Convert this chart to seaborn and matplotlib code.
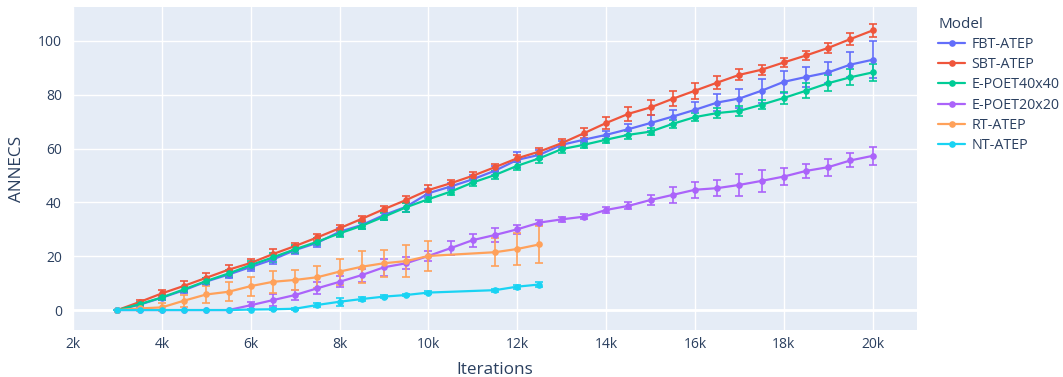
import pandas as pd
import seaborn as sns
import matplotlib.pyplot as plt
from matplotlib.ticker import FuncFormatter

# iteration grid (every 500 iterations)
iters_full = list(range(3000, 20001, 500))
iters_short = list(range(3000, 10001, 500)) + [11500, 12000, 12500]

fbt = [0, 2.0, 4.6, 7.4, 10.6, 13.2, 16.0, 18.8, 22.3, 25.0, 29.1, 31.6, 35.3, 38.4, 43.4,
       45.9, 48.6, 51.8, 55.8, 57.7, 61.4, 63.3, 65.1, 67.2, 69.5, 71.9, 74.4, 77.1, 78.6,
       81.5, 84.8, 86.6, 88.3, 91.2, 93.0]
fbt_err = [0, 0.8, 1.0, 1.2, 1.2, 1.3, 1.4, 1.6, 1.4, 1.6, 1.5, 1.4, 1.8, 1.8, 1.6, 1.4, 1.5,
           1.8, 3.0, 1.6, 1.4, 1.6, 1.5, 2.0, 2.8, 2.6, 3.0, 3.2, 3.6, 4.4, 4.0, 3.6, 3.8, 4.6, 6.8]

sbt = [0, 3.0, 6.2, 9.0, 12.0, 15.0, 17.5, 20.8, 23.8, 27.0, 30.4, 33.9, 37.5, 40.9, 44.6,
       47.1, 49.9, 53.1, 56.4, 58.9, 62.0, 65.7, 69.5, 72.9, 75.3, 78.5, 81.5, 84.5, 87.4,
       89.3, 92.0, 94.6, 97.4, 100.7, 103.9]
sbt_err = [0, 0.8, 1.2, 1.8, 1.6, 1.8, 1.6, 1.8, 1.3, 1.2, 1.2, 1.0, 1.2, 1.3, 1.8, 1.4, 1.5,
           1.3, 1.4, 1.3, 1.4, 1.8, 2.2, 2.6, 2.8, 2.8, 3.0, 2.4, 2.0, 1.8, 1.8, 1.8, 1.8, 2.2, 2.4]

poet40 = [0, 2.2, 4.7, 7.7, 10.8, 13.6, 16.7, 19.6, 22.6, 25.4, 28.5, 31.3, 34.7, 38.2, 41.2,
          44.0, 47.4, 50.2, 53.6, 56.4, 59.8, 61.4, 63.3, 65.1, 66.3, 69.2, 71.7, 73.2, 74.0,
          76.3, 78.8, 81.5, 84.3, 86.5, 88.3]
poet40_err = [0, 0.8, 1.0, 1.0, 1.2, 1.3, 1.5, 1.6, 1.4, 1.3, 1.4, 1.2, 1.4, 1.6, 1.2, 1.2, 1.3,
              1.4, 1.6, 1.6, 1.6, 1.2, 1.2, 1.4, 1.4, 1.4, 1.6, 1.8, 2.0, 1.6, 2.2, 2.8, 3.0, 3.0, 3.2]

poet20 = [0, 0, 0, 0, 0, 0, 1.8, 3.7, 5.6, 8.1, 10.5, 13.0, 15.9, 17.4, 20.1, 23.0, 26.0,
          27.9, 30.0, 32.5, 33.7, 34.7, 37.2, 38.7, 40.9, 42.8, 44.7, 45.3, 46.5, 48.0, 49.6,
          51.7, 53.1, 55.6, 57.3]
poet20_err = [0, 0, 0, 0, 0, 0, 1.3, 2.2, 2.0, 2.3, 2.0, 2.4, 3.1, 2.2, 1.9, 2.5, 2.4, 2.6,
              1.7, 0.8, 0.8, 1.0, 1.2, 1.3, 1.8, 3.0, 2.9, 3.1, 4.2, 4.1, 3.3, 2.6, 3.2, 2.6, 3.3]

rt = [0, 0.6, 1.0, 3.5, 5.8, 6.8, 8.9, 10.5, 11.2, 12.2, 14.3, 16.1, 17.4, 18.2, 20.1,
      21.5, 22.7, 24.4]
rt_err = [0, 1.0, 1.5, 2.2, 3.0, 3.5, 3.5, 4.0, 3.6, 4.0, 4.8, 5.9, 5.1, 5.8, 5.7, 5.3, 5.9, 6.8]

nt = [0, 0, 0, 0, 0, 0, 0.2, 0.3, 0.5, 1.9, 3.1, 4.1, 5.0, 5.6, 6.5, 7.4, 8.7, 9.5]
nt_err = [0, 0, 0, 0, 0, 0, 0.3, 0.3, 0.3, 0.8, 1.5, 0.7, 0.5, 0.5, 0.5, 0.5, 0.7, 0.9]

models = ['FBT-ATEP', 'SBT-ATEP', 'E-POET40x40', 'E-POET20x20', 'RT-ATEP', 'NT-ATEP']
colors = ['#636EFA', '#EF553B', '#00CC96', '#AB63FA', '#FFA15A', '#19D3F3']

series = {
    'FBT-ATEP': (iters_full, fbt, fbt_err),
    'SBT-ATEP': (iters_full, sbt, sbt_err),
    'E-POET40x40': (iters_full, poet40, poet40_err),
    'E-POET20x20': (iters_full, poet20, poet20_err),
    'RT-ATEP': (iters_short, rt, rt_err),
    'NT-ATEP': (iters_short, nt, nt_err),
}

rows = []
for m in models:
    xs, ys, es = series[m]
    for x, y, e in zip(xs, ys, es):
        rows.append({'Model': m, 'Iterations': x, 'ANNECS': y, 'err': e})
df = pd.DataFrame(rows)

sns.set_theme(style='darkgrid', rc={
    'axes.facecolor': '#E5ECF6',
    'grid.color': 'white',
    'grid.linewidth': 1.0,
})
plt.rcParams['font.family'] = ['Open Sans', 'DejaVu Sans']
text_col = '#2a3f5f'

fig = plt.figure(figsize=(10.63, 3.77), dpi=100)
ax = fig.add_axes([0.0687, 0.1247, 0.7940, 0.8567])

# zero line like plotly
ax.axhline(0, color='white', linewidth=2, zorder=0.6)

# error bars (drawn per trace, below the lines)
for i, m in enumerate(models):
    d = df[df['Model'] == m]
    ax.errorbar(d['Iterations'], d['ANNECS'], yerr=d['err'], fmt='none',
                ecolor=colors[i], elinewidth=1.4, capsize=3, capthick=1.4,
                alpha=0.85, zorder=1.5 + i * 0.1)

sns.lineplot(data=df, x='Iterations', y='ANNECS', hue='Model', hue_order=models,
             palette=colors, marker='o', markersize=4.8, markeredgewidth=0,
             linewidth=1.6, errorbar=None, sort=False, ax=ax, zorder=3)

ax.set_xlim(2000, 21000)
ax.set_ylim(-7.4, 112.6)
ax.set_xticks(range(2000, 20001, 2000))
ax.set_yticks([0, 20, 40, 60, 80, 100])
ax.xaxis.set_major_formatter(FuncFormatter(lambda v, p: f'{int(v/1000)}k'))
ax.tick_params(axis='both', length=0, labelsize=10, colors=text_col)
ax.tick_params(axis='x', pad=5)
ax.tick_params(axis='y', pad=8)
for s in ax.spines.values():
    s.set_visible(False)

ax.set_xlabel('Iterations', fontsize=12.3, color=text_col, labelpad=7)
ax.set_ylabel('ANNECS', fontsize=12.3, color=text_col, labelpad=9)

leg = ax.legend(title='Model', loc='upper left', bbox_to_anchor=(1.013, 1.0),
                frameon=False, fontsize=10.3, title_fontsize=11, handlelength=1.9,
                labelspacing=0.36, handletextpad=0.42, borderaxespad=0.3)
leg._legend_box.align = 'left'
for t in leg.get_texts():
    t.set_color(text_col)
leg.get_title().set_color(text_col)

fig.savefig('out.png', dpi=100)
